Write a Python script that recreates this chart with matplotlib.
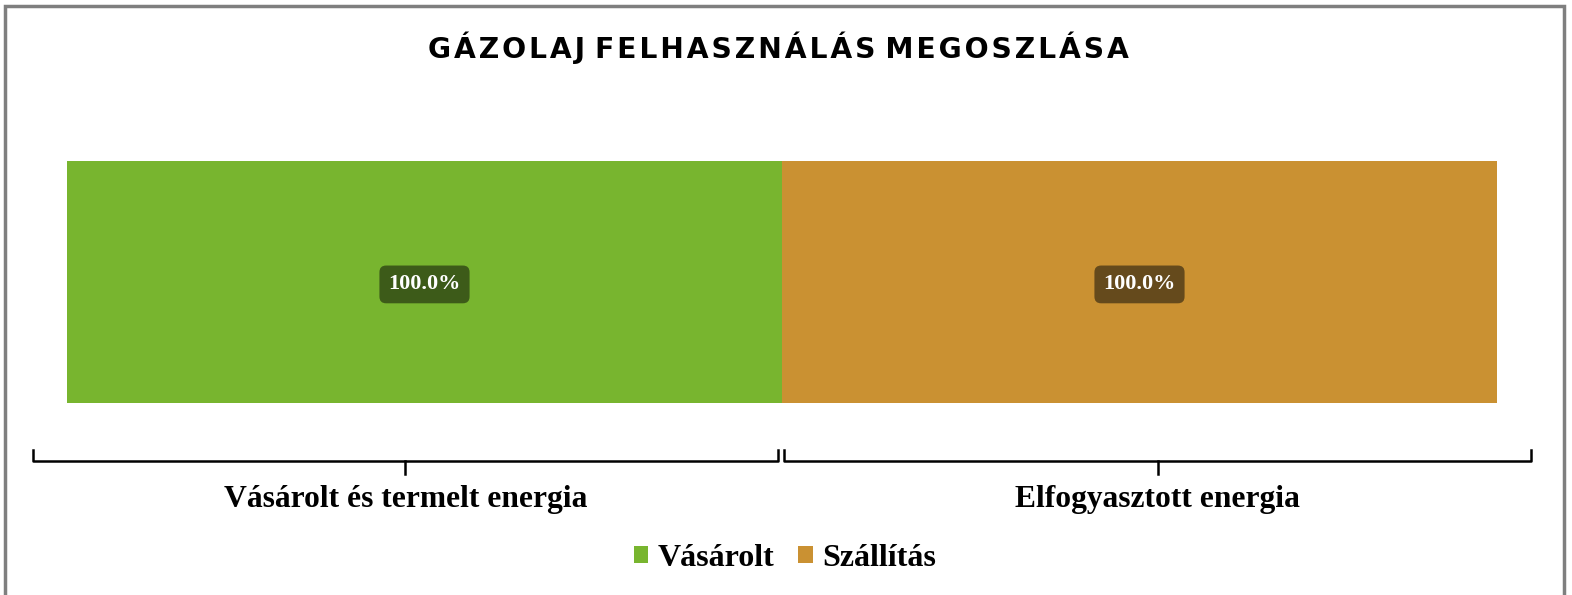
import matplotlib.pyplot as plt
from matplotlib.patches import Rectangle
from matplotlib.transforms import blended_transform_factory

# data
categories = ["Vásárolt és termelt energia", "Elfogyasztott energia"]
series_names = ["Vásárolt", "Szállítás"]
vasarolt = [100.0, 0.0]
szallitas = [0.0, 100.0]
colors = ["#78b52f", "#ca9132"]
label_box_colors = ["#3d5b19", "#654a1c"]
title = "GÁZOLAJ FELHASZNÁLÁS MEGOSZLÁSA"

serif = ["Liberation Serif", "DejaVu Serif"]

W, H = 1572, 595
fig = plt.figure(figsize=(W / 100, H / 100), dpi=100)

# outer frame (open at the bottom, cropped)
fig.patches.append(Rectangle((5 / W, -0.05), 1559 / W, 1.05 - 6 / H, transform=fig.transFigure,
                             fill=False, edgecolor="#7f7f7f", linewidth=2.5))

ax = fig.add_axes([67 / W, (H - 403) / H, 1430 / W, 242 / H])
x = list(range(len(categories)))
bottom = [0.0] * len(categories)
for name, vals, c, bc in zip(series_names, [vasarolt, szallitas], colors, label_box_colors):
    ax.bar(x, vals, width=1.0, bottom=bottom, color=c, label=name, linewidth=0)
    for xi, v, b in zip(x, vals, bottom):
        if v > 0:
            ax.text(xi, b + v / 2 - 1, f"{v:.1f}%", ha="center", va="center", color="white",
                    fontsize=16, fontweight="bold", family=serif,
                    bbox=dict(boxstyle="round,pad=0.4,rounding_size=0.3", fc=bc, ec="none"))
    bottom = [b + v for b, v in zip(bottom, vals)]

ax.set_xlim(-0.5, len(categories) - 0.5)
ax.set_ylim(0, 100)
ax.axis("off")

# category brackets under the bars
tr = blended_transform_factory(ax.transData, ax.transAxes)
ext = 34 / 715
y_line = (403 - 461) / 242
y_hook = (403 - 450) / 242
y_tick = (403 - 474) / 242
for i, cat in enumerate(categories):
    left = i - 0.5 - (ext if i == 0 else -0.003)
    right = i + 0.5 + (ext if i == len(categories) - 1 else -0.006)
    ax.plot([left, left, right, right], [y_hook, y_line, y_line, y_hook], color="black",
            lw=1.8, transform=tr, clip_on=False, solid_joinstyle="round")
    mid = (left + right) / 2
    ax.plot([mid, mid], [y_line, y_tick], color="black", lw=1.8, transform=tr, clip_on=False)
    ax.text(mid, (403 - 500) / 242, cat, ha="center", va="center", fontsize=22.7,
            fontweight="bold", family=serif, transform=tr)

fig.legend(loc="center", bbox_to_anchor=(785 / W, (H - 558) / H), ncol=2, frameon=False,
           prop={"family": serif, "weight": "bold", "size": 23}, handlelength=0.45,
           handleheight=0.45, handletextpad=0.3, columnspacing=0.75)

spaced = " ".join("\u200a".join(w) for w in title.split(" "))
fig.text(778 / W, (H - 48) / H, spaced, ha="center", va="center", fontsize=20.3,
         fontweight="bold", family=["DejaVu Sans"])

fig.savefig("out.png", dpi=100, facecolor="white")
